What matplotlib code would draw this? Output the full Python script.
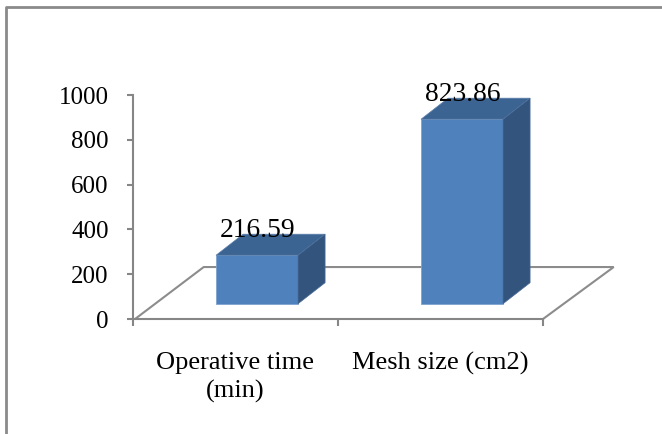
import matplotlib
matplotlib.use('Agg')
import matplotlib.pyplot as plt
from matplotlib.lines import Line2D
from matplotlib.patches import Polygon

categories = ['Operative time\n(min)', 'Mesh size (cm2)']
values = [216.59, 823.86]
value_labels = ['216.59', '823.86']
y_ticks = [0, 200, 400, 600, 800, 1000]

W, H = 662, 434
plt.rcParams['font.family'] = ['Liberation Serif', 'DejaVu Serif']

fig = plt.figure(figsize=(W / 100, H / 100), dpi=100)
fig.patch.set_facecolor('white')

# outer frame of the chart, only top and left are visible
fig.add_artist(Line2D([5.5 / W, 5.5 / W, 1], [0, 1 - 7 / H, 1 - 7 / H], color='#8a8a8a', lw=2.0))

ax = fig.add_axes([133 / W, 1 - 319 / H, 410 / W, 224 / H])
ax.set_xlim(0, 2)
ax.set_ylim(0, 1000)
ax.patch.set_visible(False)

for s in ['top', 'right']:
    ax.spines[s].set_visible(False)
for s in ['left', 'bottom']:
    ax.spines[s].set_color('#868686')
    ax.spines[s].set_linewidth(1.5)

ax.set_yticks(y_ticks)
ax.set_yticklabels([str(v) for v in y_ticks], fontsize=18)
ax.set_xticks([0, 1, 2])
ax.set_xticklabels([])
ax.tick_params(axis='y', length=4.5, width=1.5, color='#868686', pad=13)
ax.tick_params(axis='x', length=5, width=1.5, color='#868686')

# depth of the floor and of the bars, in data units
floor_dx, floor_dy = 0.345, 232
bar_dx, bar_dy = 0.132, 94
base_y = 68
bar_w = 0.4

floor = [(0.01, 0), (floor_dx, floor_dy), (2 + floor_dx, floor_dy), (2, 0)]
ax.add_patch(Polygon(floor, closed=False, fill=False, edgecolor='#8c8c8c', lw=1.5, clip_on=False, zorder=1))

for i, v in enumerate(values):
    x0 = i + 0.5 + 0.105 - bar_w / 2
    x1 = x0 + bar_w
    y0 = base_y
    y1 = base_y + v
    ax.add_patch(Polygon([(x0, y0), (x1, y0), (x1, y1), (x0, y1)], fc='#4f81bd', ec='#7ea3d0', lw=0.6, clip_on=False, zorder=3))
    ax.add_patch(Polygon([(x0, y1), (x1, y1), (x1 + bar_dx, y1 + bar_dy), (x0 + bar_dx, y1 + bar_dy)],
                         fc='#3c6493', ec='#5c80ab', lw=0.5, clip_on=False, zorder=3))
    ax.add_patch(Polygon([(x1, y0), (x1 + bar_dx, y0 + bar_dy), (x1 + bar_dx, y1 + bar_dy), (x1, y1)],
                         fc='#32547d', ec='#4a6d98', lw=0.5, clip_on=False, zorder=3))
    ax.text(i + 0.5 + 0.105 + 0.002, y1 + 110, value_labels[i], ha='center', va='center', fontsize=19.8, color='black', zorder=4)

for i, c in enumerate(categories):
    ax.annotate(c, (i + 0.5, 0), xycoords='data', xytext=(0, -24), textcoords='offset points',
                ha='center', va='top', fontsize=19, color='black', linespacing=1.32, annotation_clip=False)

fig.savefig('out.png', dpi=100)
